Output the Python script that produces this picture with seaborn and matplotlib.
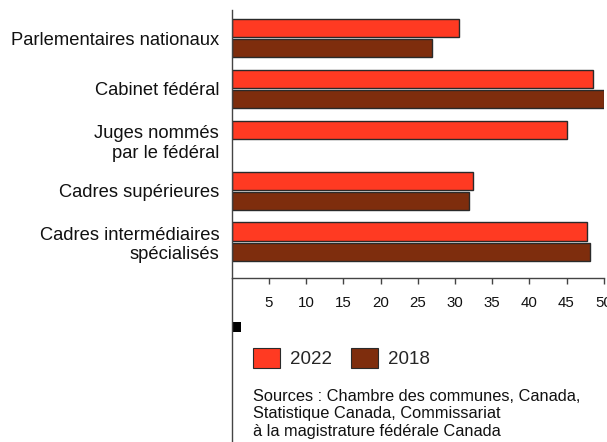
import numpy as np
import pandas as pd
import matplotlib
matplotlib.use("Agg")
import matplotlib.pyplot as plt
from matplotlib.lines import Line2D
from matplotlib.patches import Rectangle, Patch
import seaborn as sns

categories = [
    "Parlementaires nationaux",
    "Cabinet fédéral",
    "Juges nommés\npar le fédéral",
    "Cadres supérieures",
    "Cadres intermédiaires\nspécialisés",
]
years = ["2022", "2018"]
values_2022 = [30.5, 48.5, 45.1, 32.4, 47.7]
values_2018 = [26.9, 50.0, np.nan, 31.9, 48.1]
x_ticks = [5, 10, 15, 20, 25, 30, 35, 40, 45, 50]
sources = ("Sources : Chambre des communes, Canada,\n"
           "Statistique Canada, Commissariat\n"
           "à la magistrature fédérale Canada")

colors = {"2022": "#FF3A22", "2018": "#7E2D0D"}

df = pd.DataFrame({
    "categorie": categories * 2,
    "annee": ["2022"] * len(categories) + ["2018"] * len(categories),
    "pct": values_2022 + values_2018,
})

sns.set_theme(style="white")
plt.rcParams["font.family"] = ["Liberation Sans", "DejaVu Sans"]

W, H = 607, 442
fig = plt.figure(figsize=(W / 100, H / 100), dpi=100)
ax_left, ax_right, ax_top, ax_bottom = 231.7, 603.7, 10, 278
ax = fig.add_axes([ax_left / W, 1 - ax_bottom / H,
                   (ax_right - ax_left) / W, (ax_bottom - ax_top) / H])

sns.barplot(data=df, y="categorie", x="pct", hue="annee",
            order=categories, hue_order=years, palette=colors,
            saturation=1, orient="h", width=0.8, gap=0.1,
            edgecolor="#2a2a2a", linewidth=1.0, ax=ax, legend=False)

ax.set_xlim(0, 50)
ax.set_ylim(4.71, -0.55)
ax.set_xlabel("")
ax.set_ylabel("")
ax.set_xticks(x_ticks)
ax.set_xticklabels([str(t) for t in x_ticks], fontsize=10.8, color="#111111")
ax.tick_params(axis="x", length=4, width=1, color="#444444", pad=9,
               bottom=True, direction="out")
ax.tick_params(axis="y", length=0, pad=9, labelsize=13.2, labelcolor="#111111")
for lbl in ax.get_yticklabels():
    lbl.set_horizontalalignment("right")

for side in ("top", "right"):
    ax.spines[side].set_visible(False)
for side in ("left", "bottom"):
    ax.spines[side].set_color("#444444")
    ax.spines[side].set_linewidth(1.0)

# left rule continues down past the axis into the legend area
fig.add_artist(Line2D([ax_left / W, ax_left / W], [0, 1 - ax_bottom / H],
                      color="#444444", linewidth=1.0,
                      transform=fig.transFigure))
# small black marker below the axis
fig.add_artist(Rectangle((232.3 / W, 1 - 331.7 / H), 8.7 / W, 9.4 / H,
                         facecolor="black", edgecolor="none",
                         transform=fig.transFigure))

handles = [Patch(facecolor=colors[y], edgecolor="#2a2a2a", linewidth=0.8)
           for y in years]
fig.legend(handles, years, loc="center left",
           bbox_to_anchor=(253 / W, 1 - 358 / H), ncol=2, frameon=False,
           fontsize=13.5, handlelength=1.45, handleheight=1.25,
           handletextpad=0.5, columnspacing=1.05, borderpad=0,
           borderaxespad=0)

fig.text(253 / W, 1 - 389 / H, sources, fontsize=11.8, color="#111111",
         ha="left", va="top", linespacing=1.2)

fig.savefig("out.png", dpi=100)
